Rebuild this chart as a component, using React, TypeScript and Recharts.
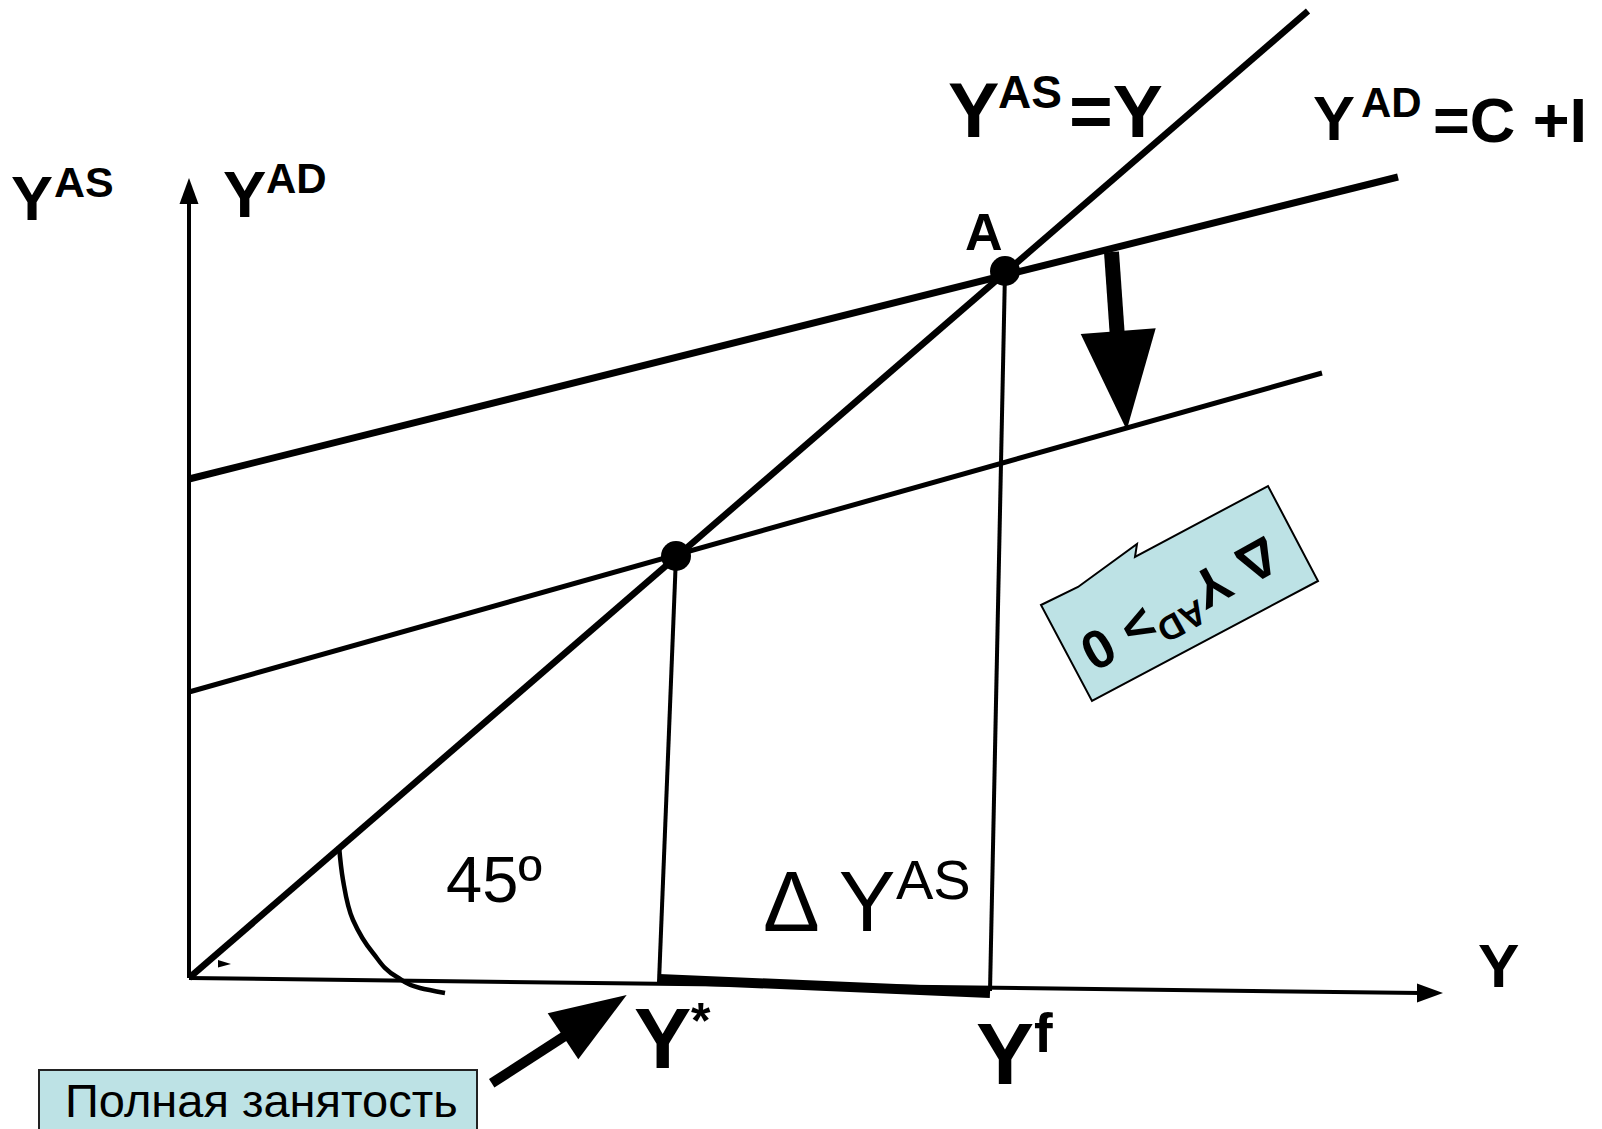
import React from 'react';
import { ComposedChart, Line, Scatter, XAxis, YAxis } from 'recharts';

// Keynesian cross: 45° line Y^AS = Y and two aggregate-demand lines.
// Units are pixels measured from the corner of the axes (y grows upwards).
const CHART_W = 1602;
const CHART_H = 1129;
const X_DOMAIN = [-189, 1413];
const Y_DOMAIN = [-151, 978];

const FONT = "'Liberation Sans', Arial, Helvetica, sans-serif";
const PANEL = '#bde2e5';

// axes
const yAxisLine = [{ x: 0, y: 0 }, { x: 0, y: 780 }];
const xAxisLine = [{ x: 0, y: 0 }, { x: 1232, y: -15 }];
const yAxisHead = [{ x: 0, y: 800 }, { x: -9.5, y: 774 }, { x: 9.5, y: 774 }];
const xAxisHead = [{ x: 1254, y: -15 }, { x: 1228, y: -5.5 }, { x: 1228, y: -24.5 }];

// curves
const supplyLine = [{ x: 0, y: 0 }, { x: 1119, y: 967 }];
const demandUpper = [{ x: 0, y: 499 }, { x: 1209, y: 801 }];
const demandLower = [{ x: 0, y: 286 }, { x: 1133, y: 605 }];

// equilibria and drop lines
const equilibria = [{ x: 487, y: 422 }, { x: 816, y: 707 }];
const dropStar = [{ x: 487, y: 422 }, { x: 470, y: -4 }];
const dropFull = [{ x: 816, y: 707 }, { x: 801, y: -13 }];
const gapSegment = [{ x: 470, y: -1 }, { x: 801, y: -15 }];

// 45° angle mark
const angleArc = [
  { x: 150, y: 132 },
  { x: 154, y: 98 },
  { x: 164, y: 58 },
  { x: 184, y: 25 },
  { x: 208, y: 1 },
  { x: 231, y: -10 },
  { x: 256, y: -15 },
];
const originTick = [{ x: 29, y: 18 }, { x: 29, y: 10.5 }, { x: 42, y: 14 }];

// shift arrow between the demand lines
const shiftShaft = [{ x: 922.5, y: 726 }, { x: 928.5, y: 640 }];
const shiftHead = [{ x: 891.7, y: 644 }, { x: 966.7, y: 649.7 }, { x: 937.7, y: 548 }];

// callout with the rotated note
const calloutBox = [
  { x: 852, y: 373 },
  { x: 889, y: 391 },
  { x: 948, y: 434 },
  { x: 946, y: 421 },
  { x: 1079, y: 492 },
  { x: 1129, y: 397 },
  { x: 903, y: 277 },
];
const calloutAnchor = [{ x: 991, y: 374 }];

// "full employment" note and its arrow
const noteBox = [
  { x: -150, y: -92 },
  { x: 288, y: -92 },
  { x: 288, y: -160 },
  { x: -150, y: -160 },
];
const noteShaft = [{ x: 302.7, y: -105.3 }, { x: 382, y: -54 }];
const noteHead = [{ x: 358.7, y: -35.3 }, { x: 437.7, y: -17 }, { x: 389.3, y: -81.3 }];

// text pieces: x = left edge, y = baseline
const labels = [
  { x: -178, y: 758, text: 'Y', size: 63, bold: true },
  { x: -135, y: 781, text: 'AS', size: 43, bold: true },
  { x: 34, y: 761, text: 'Y', size: 65, bold: true },
  { x: 77, y: 785, text: 'AD', size: 42, bold: true },
  { x: 759, y: 841, text: 'Y', size: 77, bold: true },
  { x: 809, y: 870, text: 'AS', size: 46, bold: true },
  { x: 880, y: 841, text: '=Y', size: 75, bold: true },
  { x: 1124, y: 838, text: 'Y', size: 63, bold: true },
  { x: 1172, y: 861, text: 'AD', size: 42, bold: true },
  { x: 1244, y: 836, text: '=C +I', size: 63, bold: true },
  { x: 776, y: 728, text: 'A', size: 52, bold: true },
  { x: 257, y: 76, text: '45º', size: 65, bold: false },
  { x: 574, y: 47, text: 'Δ Y', size: 85, bold: false },
  { x: 707, y: 79, text: 'AS', size: 56, bold: false },
  { x: 1289, y: -9, text: 'Y', size: 62, bold: true },
  { x: 445, y: -90, text: 'Y', size: 86, bold: true },
  { x: 502, y: -60, text: '*', size: 50, bold: true },
  { x: 787, y: -106, text: 'Y', size: 87, bold: true },
  { x: 845, y: -74, text: 'f', size: 56, bold: true },
  { x: -124, y: -139, text: 'Полная занятость', size: 47, bold: false },
];

const Empty = () => <g />;

const polygon = (fill: string, stroke: string, strokeWidth: number) => (props: any) => (
  <polygon
    points={(props.points || []).map((p: any) => `${p.x},${p.y}`).join(' ')}
    fill={fill}
    stroke={stroke}
    strokeWidth={strokeWidth}
    strokeLinejoin="miter"
  />
);

const Dot = (props: any) => <circle cx={props.cx} cy={props.cy} r={15} fill="#000" />;

const LabelText = (props: any) => {
  const d = props.payload ?? props;
  return (
    <text
      x={props.cx}
      y={props.cy}
      fontFamily={FONT}
      fontSize={d.size}
      fontWeight={d.bold ? 'bold' : 'normal'}
      fill="#000"
    >
      {d.text}
    </text>
  );
};

const CalloutText = (props: any) => (
  <text
    x={props.cx}
    y={props.cy}
    transform={`rotate(151 ${props.cx} ${props.cy})`}
    textAnchor="middle"
    dominantBaseline="central"
    fontFamily={FONT}
    fontWeight="bold"
    fontSize={54}
    fill="#000"
  >
    Δ Y
    <tspan fontSize={35} dy={-17}>AD</tspan>
    <tspan dy={17}>&gt; 0</tspan>
  </text>
);

const seg = (data: { x: number; y: number }[], width: number, type: any = 'linear') => (
  <Line
    data={data}
    dataKey="y"
    type={type}
    stroke="#000"
    strokeWidth={width}
    dot={false}
    activeDot={false}
    isAnimationActive={false}
  />
);

const shape = (data: { x: number; y: number }[], fill: string, stroke = 'none', width = 0) => (
  <Scatter
    data={data}
    shape={Empty}
    line={polygon(fill, stroke, width)}
    lineType="joint"
    isAnimationActive={false}
  />
);

export default function App() {
  return (
    <div style={{ position: 'absolute', left: 0, top: 0, width: CHART_W, height: CHART_H, background: '#fff' }}>
      <ComposedChart width={CHART_W} height={CHART_H} margin={{ top: 0, right: 0, bottom: 0, left: 0 }}>
        <XAxis type="number" dataKey="x" domain={X_DOMAIN} allowDataOverflow hide />
        <YAxis type="number" dataKey="y" domain={Y_DOMAIN} allowDataOverflow hide />

        {shape(noteBox, PANEL, '#222', 2)}
        {shape(calloutBox, PANEL, '#000', 2)}

        {seg(yAxisLine, 4)}
        {seg(xAxisLine, 4)}
        {shape(yAxisHead, '#000')}
        {shape(xAxisHead, '#000')}

        {seg(angleArc, 4.5, 'monotoneY')}
        {shape(originTick, '#000')}

        {seg(demandUpper, 7)}
        {seg(demandLower, 5)}
        {seg(supplyLine, 6.5)}
        {seg(dropStar, 4)}
        {seg(dropFull, 4)}
        {seg(gapSegment, 10)}

        {seg(shiftShaft, 15)}
        {shape(shiftHead, '#000')}
        {seg(noteShaft, 10)}
        {shape(noteHead, '#000')}

        <Scatter data={equilibria} shape={Dot} isAnimationActive={false} />
        <Scatter data={calloutAnchor} shape={CalloutText} isAnimationActive={false} />
        <Scatter data={labels} shape={LabelText} isAnimationActive={false} />
      </ComposedChart>
    </div>
  );
}
